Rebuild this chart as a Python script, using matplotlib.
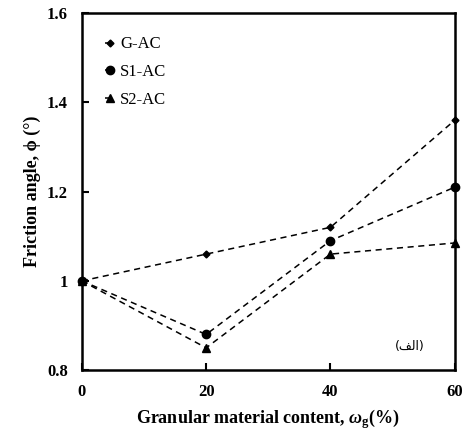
import matplotlib.pyplot as plt

x = [0, 20, 40, 60]
g_ac = [1.0, 1.06, 1.12, 1.36]
s1_ac = [1.0, 0.88, 1.09, 1.21]
s2_ac = [1.0, 0.85, 1.06, 1.085]

plt.rcParams['font.family'] = ['Liberation Serif', 'DejaVu Serif']
plt.rcParams['mathtext.fontset'] = 'custom'
plt.rcParams['mathtext.rm'] = 'Liberation Serif:bold'
plt.rcParams['mathtext.it'] = 'Liberation Serif:bold:italic'

fig = plt.figure(figsize=(4.65, 4.36), dpi=100)
ax = fig.add_axes([0.176, 0.151, 0.802, 0.819])

ax.plot(x, g_ac, color='black', linestyle='--', dashes=(4, 3), linewidth=1.1,
        marker='D', markersize=3.5, label='G-AC', clip_on=False)
ax.plot(x, s1_ac, color='black', linestyle='--', dashes=(4, 3), linewidth=1.1,
        marker='o', markersize=6, label='S1-AC', clip_on=False)
ax.plot(x, s2_ac, color='black', linestyle='--', dashes=(4, 3), linewidth=1.1,
        marker='^', markersize=6, label='S2-AC', clip_on=False)

ax.set_xlim(0, 60)
ax.set_ylim(0.8, 1.6)
ax.set_xticks([0, 20, 40, 60])
ax.set_yticks([0.8, 1.0, 1.2, 1.4, 1.6])
ax.set_yticklabels(['0.8', '1', '1.2', '1.4', '1.6'])
ax.tick_params(direction='in', length=5, width=1.5, labelsize=12, pad=10)
for lab in ax.get_xticklabels() + ax.get_yticklabels():
    lab.set_fontweight('bold')
for s in ax.spines.values():
    s.set_linewidth(1.8)

ax.set_xlabel(r'Granular material content, $\omega_\mathrm{g}$(%)',
              fontsize=13, fontweight='bold', labelpad=5)
ax.set_ylabel('Friction angle, ϕ (°)', fontsize=13, fontweight='bold', labelpad=4)

ax.legend(loc='upper left', frameon=False, fontsize=12, handlelength=0.6,
          handletextpad=0.3, labelspacing=0.7, borderaxespad=1.0)

ax.text(0.88, 0.065, '(\ufed2\ufedf\ufe8d)', transform=ax.transAxes,
        fontsize=9, family=['DejaVu Sans'], ha='center', va='center')

fig.savefig('out.png', dpi=100)
